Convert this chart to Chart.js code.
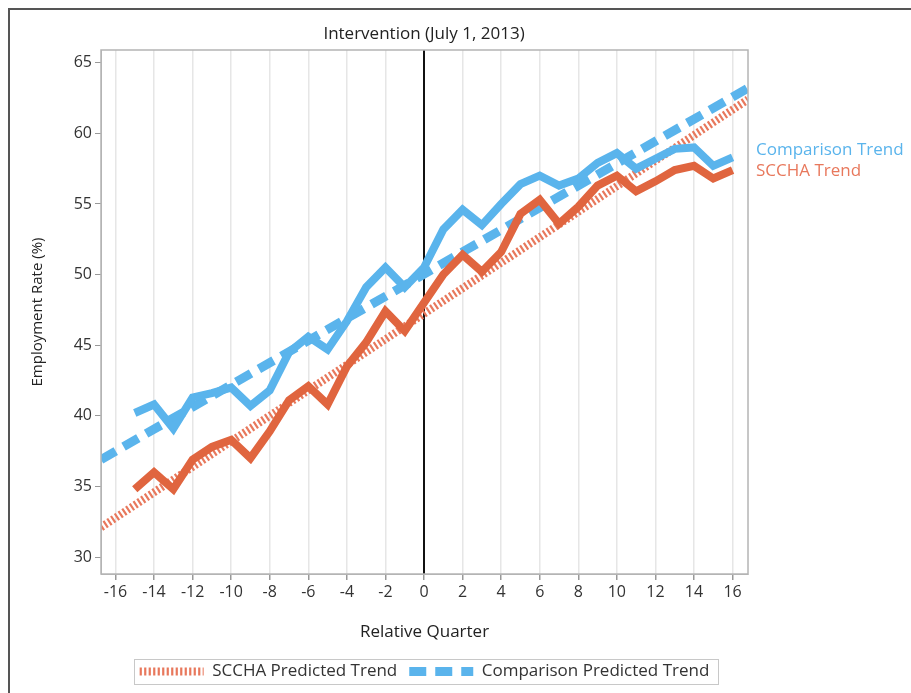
<!DOCTYPE html>
<html>
<head>
<meta charset="utf-8">
<script src="https://cdn.jsdelivr.net/npm/chart.js@4.4.1/dist/chart.umd.min.js"></script>
<style>
  html, body { margin: 0; padding: 0; background: #fff; }
  #wrap { width: 911px; height: 693px; position: relative; }
</style>
</head>
<body>
<div id="wrap"><canvas id="chart"></canvas></div>
<script>
// Quarters relative to the intervention date
const quarters = [-15, -14, -13, -12, -11, -10, -9, -8, -7, -6, -5, -4, -3, -2, -1, 0,
                  1, 2, 3, 4, 5, 6, 7, 8, 9, 10, 11, 12, 13, 14, 15, 16];

// Observed employment rate (%) by quarter
const comparisonRate = [40.2, 40.8, 39.1, 41.3, 41.6, 42.0, 40.7, 41.8, 44.5, 45.6, 44.7, 46.7, 49.1, 50.5, 49.1, 50.5,
                        53.2, 54.6, 53.5, 55.0, 56.4, 57.0, 56.3, 56.8, 57.9, 58.6, 57.5, 58.2, 58.9, 59.0, 57.7, 58.3];
const scchaRate = [34.8, 36.0, 34.8, 36.9, 37.8, 38.3, 37.0, 38.9, 41.1, 42.1, 40.8, 43.5, 45.2, 47.4, 46.0, 48.0,
                   50.0, 51.4, 50.2, 51.6, 54.3, 55.3, 53.6, 54.8, 56.3, 57.0, 55.9, 56.6, 57.4, 57.7, 56.8, 57.4];

// Fitted trend lines, given at both ends of the quarter axis
const trendQuarters = [-16.75, 16.8];
const scchaPredicted = [32.1, 62.4];
const comparisonPredicted = [36.9, 63.2];

// Axis ticks
const xTickValues = [-16, -14, -12, -10, -8, -6, -4, -2, 0, 2, 4, 6, 8, 10, 12, 14, 16];
const yTickValues = [30, 35, 40, 45, 50, 55, 60, 65];

const interventionQuarter = 0;
const interventionLabel = 'Intervention (July 1, 2013)';

const BLUE = '#5AB4EC';
const RED = '#E0653F';
const RED_TREND = '#E8785C';
const FONT = "'Open Sans', 'DejaVu Sans', sans-serif";

const toPoints = (xs, ys) => xs.map((x, i) => ({ x: x, y: ys[i] }));

// Centre the legend under the plot area rather than the whole layout box
const legendUnderPlot = {
  id: 'legendUnderPlot',
  beforeDraw(chart) {
    const lg = chart.legend;
    const a = chart.chartArea;
    if (!lg) return;
    const w = lg.right - lg.left;
    const delta = ((a.left + a.right) / 2 - w / 2) - lg.left;
    if (Math.abs(delta) < 0.01) return;
    lg.left += delta;
    lg.right += delta;
    (lg.legendHitBoxes || []).forEach(b => { b.left += delta; });
  }
};

// Outer frame, plot frame, intervention line and its label, end labels, legend box
const decorations = {
  id: 'decorations',
  beforeDatasetsDraw(chart) {
    const { ctx, chartArea: a, scales: { x } } = chart;
    const px = Math.round(x.getPixelForValue(interventionQuarter));
    ctx.save();
    ctx.strokeStyle = '#111';
    ctx.lineWidth = 2;
    ctx.beginPath();
    ctx.moveTo(px, a.top);
    ctx.lineTo(px, a.bottom);
    ctx.stroke();
    ctx.restore();
  },
  afterDraw(chart) {
    const { ctx, chartArea: a, scales: { x, y } } = chart;
    ctx.save();
    // outer frame
    ctx.strokeStyle = '#555';
    ctx.lineWidth = 2;
    ctx.beginPath();
    ctx.moveTo(9, chart.height + 2);
    ctx.lineTo(9, 9);
    ctx.lineTo(chart.width + 2, 9);
    ctx.stroke();
    // plot frame
    ctx.strokeStyle = '#b4b4b4';
    ctx.lineWidth = 1.5;
    ctx.strokeRect(a.left, a.top, a.right - a.left, a.bottom - a.top);
    // intervention label
    ctx.fillStyle = '#222';
    ctx.font = "17px " + FONT;
    ctx.textAlign = 'center';
    ctx.textBaseline = 'middle';
    ctx.fillText(interventionLabel, x.getPixelForValue(interventionQuarter), 34);
    // end-of-series labels
    ctx.textAlign = 'left';
    ctx.font = "17px " + FONT;
    const redY = y.getPixelForValue(scchaRate[scchaRate.length - 1]) + 1;
    const blueY = Math.min(y.getPixelForValue(comparisonRate[comparisonRate.length - 1]), redY - 21);
    ctx.fillStyle = BLUE;
    ctx.fillText('Comparison Trend', a.right + 8, blueY);
    ctx.fillStyle = RED_TREND;
    ctx.fillText('SCCHA Trend', a.right + 8, redY);
    // legend box
    const boxes = chart.legend.legendHitBoxes;
    if (boxes && boxes.length) {
      const l = Math.min(...boxes.map(b => b.left)) - 6;
      const r = Math.max(...boxes.map(b => b.left + b.width)) + 8;
      const t = Math.min(...boxes.map(b => b.top)) - 4;
      const bt = Math.max(...boxes.map(b => b.top + b.height)) + 4;
      ctx.strokeStyle = '#c8c8c8';
      ctx.lineWidth = 1;
      ctx.strokeRect(Math.round(l) + 0.5, Math.round(t) + 0.5, Math.round(r - l), Math.round(bt - t));
    }
    ctx.restore();
  }
};

const legendOrder = ['SCCHA Predicted Trend', 'Comparison Predicted Trend'];

new Chart(document.getElementById('chart'), {
  type: 'line',
  data: {
    datasets: [
      {
        label: 'SCCHA Trend',
        data: toPoints(quarters, scchaRate),
        borderColor: RED, borderWidth: 8, pointRadius: 0, order: 0,
        borderJoinStyle: 'miter'
      },
      {
        label: 'Comparison Trend',
        data: toPoints(quarters, comparisonRate),
        borderColor: BLUE, borderWidth: 8, pointRadius: 0, order: 0,
        borderJoinStyle: 'miter'
      },
      {
        label: 'Comparison Predicted Trend',
        data: toPoints(trendQuarters, comparisonPredicted),
        borderColor: BLUE, borderWidth: 9, borderDash: [17, 9], pointRadius: 0, order: 1
      },
      {
        label: 'SCCHA Predicted Trend',
        data: toPoints(trendQuarters, scchaPredicted),
        borderColor: RED_TREND, borderWidth: 8, borderDash: [2.2, 2.3], pointRadius: 0, order: 1
      }
    ]
  },
  options: {
    responsive: true,
    maintainAspectRatio: false,
    animation: false,
    layout: { padding: { left: 29, right: 163, top: 50, bottom: 3 } },
    plugins: {
      title: { display: false },
      tooltip: { enabled: false },
      legend: {
        position: 'bottom',
        labels: {
          usePointStyle: true,
          pointStyleWidth: 64,
          padding: 12,
          color: '#333',
          font: { family: FONT, size: 17 },
          generateLabels(chart) {
            return legendOrder.map(name => {
              const i = chart.data.datasets.findIndex(d => d.label === name);
              const ds = chart.data.datasets[i];
              return {
                text: ds.label, datasetIndex: i,
                strokeStyle: ds.borderColor, fillStyle: 'rgba(0,0,0,0)',
                lineWidth: ds.borderWidth, lineDash: ds.borderDash,
                pointStyle: 'line', hidden: false, fontColor: '#333'
              };
            });
          }
        },
        onClick() {}
      }
    },
    scales: {
      x: {
        type: 'linear',
        min: -16.75, max: 16.8,
        afterBuildTicks(scale) { scale.ticks = xTickValues.map(v => ({ value: v })); },
        afterFit(scale) { scale.height = 77; },
        grid: { color: '#e6e6e6', lineWidth: 1.5, tickColor: '#999', tickLength: 6 },
        border: { display: true, color: '#b4b4b4' },
        ticks: { color: '#333', font: { family: FONT, size: 16 }, padding: 3, maxRotation: 0 },
        title: { display: true, text: 'Relative Quarter', color: '#222', font: { family: FONT, size: 17 }, padding: { top: 4, bottom: 9 } }
      },
      y: {
        min: 28.8, max: 65.9,
        afterBuildTicks(scale) { scale.ticks = yTickValues.map(v => ({ value: v })); },
        afterFit(scale) { scale.width = 72; },
        grid: { drawOnChartArea: false, tickColor: '#999', tickLength: 6 },
        border: { display: true, color: '#b4b4b4' },
        ticks: { color: '#333', font: { family: FONT, size: 16 }, padding: 3 },
        title: { display: true, text: 'Employment Rate (%)', color: '#222', font: { family: FONT, size: 15 }, padding: { top: 0, bottom: 4 } }
      }
    }
  },
  plugins: [legendUnderPlot, decorations]
});
</script>
</body>
</html>
